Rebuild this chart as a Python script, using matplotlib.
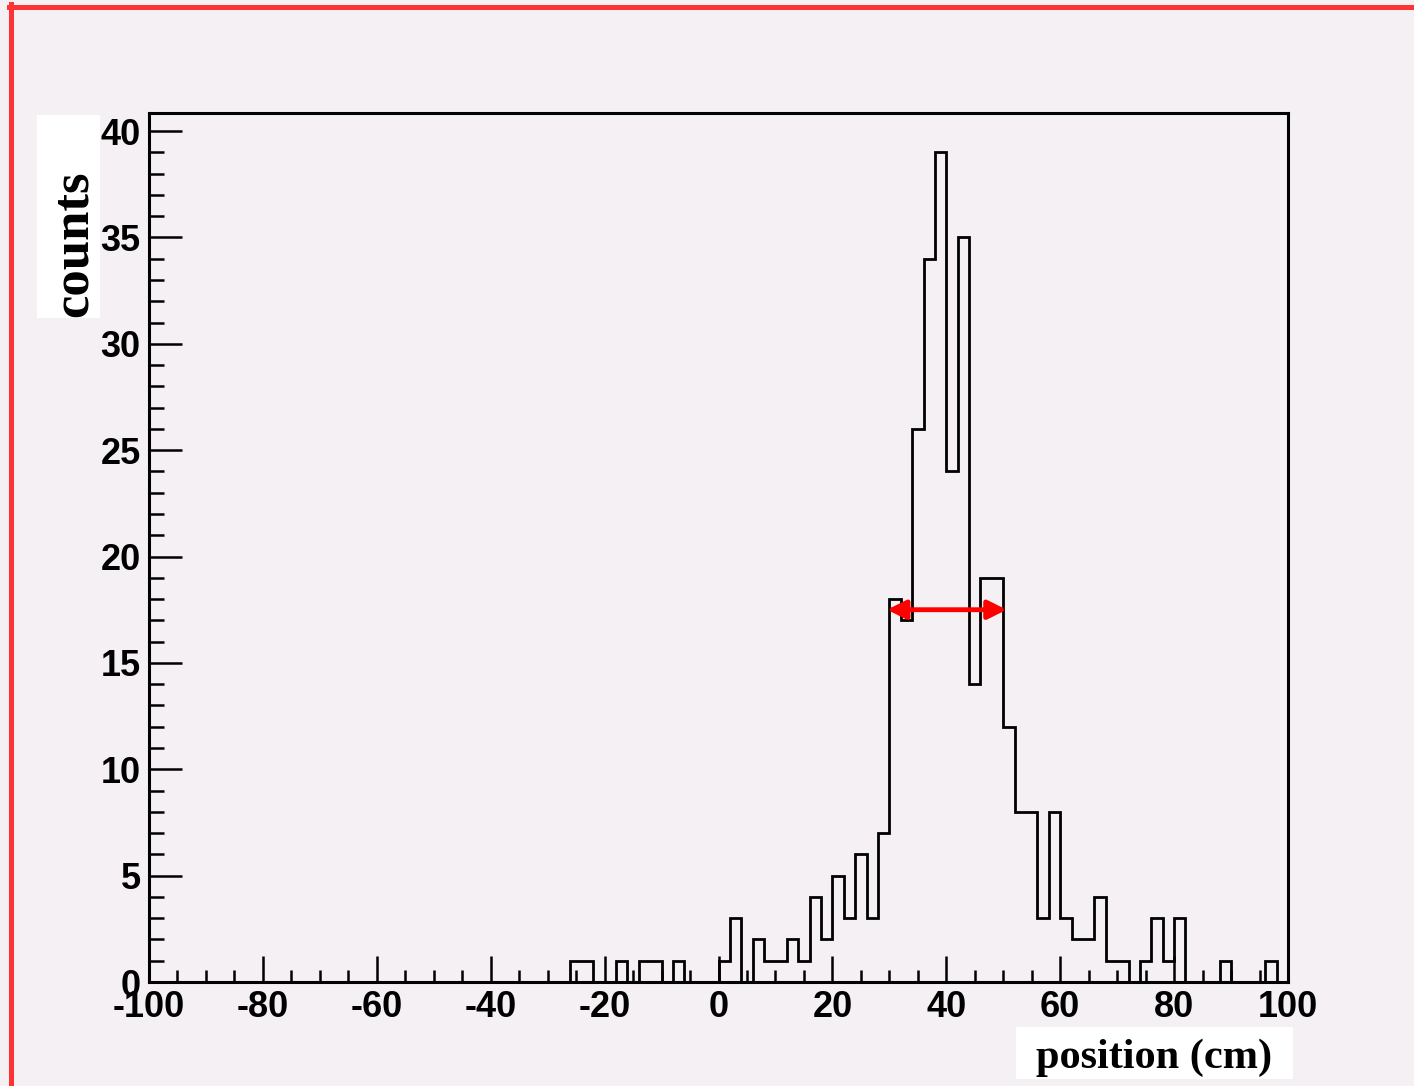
import numpy as np
import matplotlib
matplotlib.use('Agg')
import matplotlib.pyplot as plt
from matplotlib.patches import Rectangle
from matplotlib.lines import Line2D
from matplotlib.ticker import MultipleLocator

# ── Data: 2 cm bins from -100 to 100 ─────────────────────────
bin_edges = np.arange(-100, 101, 2)
counts = np.zeros(100)
nonzero = {
    -26: 1, -24: 1, -18: 1, -14: 1, -12: 1, -8: 1,
    0: 1, 2: 3, 6: 2, 8: 1, 10: 1, 12: 2, 14: 1, 16: 4, 18: 2,
    20: 5, 22: 3, 24: 6, 26: 3, 28: 7, 30: 18, 32: 17, 34: 26,
    36: 34, 38: 39, 40: 24, 42: 35, 44: 14, 46: 19, 48: 19,
    50: 12, 52: 8, 54: 8, 56: 3, 58: 8, 60: 3, 62: 2, 64: 2,
    66: 4, 68: 1, 70: 1, 74: 1, 76: 3, 78: 1, 80: 3, 88: 1, 96: 1,
}
for lo, c in nonzero.items():
    counts[(lo + 100) // 2] = c

fwhm_lo, fwhm_hi, half_max = 30, 50, 17.5

x_ticks = [-100, -80, -60, -40, -20, 0, 20, 40, 60, 80, 100]
y_ticks = [0, 5, 10, 15, 20, 25, 30, 35, 40]

bg = '#f5f0f4'
W, H = 1414, 1086
fig = plt.figure(figsize=(W / 100, H / 100), dpi=100, facecolor=bg)


def fx(px):
    return px / W


def fy(py):
    return 1 - py / H


ax = fig.add_axes([fx(149), fy(982), fx(1288) - fx(149), fy(113) - fy(982)])
ax.set_facecolor(bg)

ax.stairs(counts, bin_edges, color='black', linewidth=2.0, baseline=0)

ax.set_xlim(-100, 100)
ax.set_ylim(0, 40.85)

for s in ax.spines.values():
    s.set_linewidth(2.2)
    s.set_color('black')

ax.xaxis.set_minor_locator(MultipleLocator(5))
ax.yaxis.set_minor_locator(MultipleLocator(1))
ax.set_xticks(x_ticks)
ax.set_yticks(y_ticks)
ax.set_xticklabels([str(v) for v in x_ticks])
ax.set_yticklabels([str(v) for v in y_ticks])

tick_font = ['Liberation Sans Narrow', 'Liberation Sans', 'DejaVu Sans']
ax.tick_params(axis='x', which='major', direction='in', length=19, width=1.8,
               pad=6, labelsize=26)
ax.tick_params(axis='x', which='minor', direction='in', length=9, width=1.8)
ax.tick_params(axis='y', which='major', direction='in', length=24, width=1.8,
               pad=6, labelsize=26)
ax.tick_params(axis='y', which='minor', direction='in', length=11, width=1.8)
for lab in ax.get_xticklabels() + ax.get_yticklabels():
    lab.set_family(tick_font)
    lab.set_fontweight('bold')

# FWHM arrow
ax.annotate('', xy=(fwhm_lo - 0.4, half_max), xytext=(fwhm_hi + 0.6, half_max),
            arrowprops=dict(arrowstyle='<|-|>', color='red', lw=3.5,
                            mutation_scale=28, shrinkA=0, shrinkB=0))

# white label boxes + serif axis titles
fig.patches.append(Rectangle((fx(37), fy(318)), fx(100) - fx(37), fy(115) - fy(318),
                             transform=fig.transFigure, facecolor='white',
                             edgecolor='none', zorder=1))
fig.text(fx(74), fy(244), 'counts', rotation=90, ha='center', va='center',
         family=['Liberation Serif', 'DejaVu Serif'], fontweight='bold',
         fontsize=38, zorder=2)

fig.patches.append(Rectangle((fx(1016), fy(1079)), fx(1293) - fx(1016), fy(1027) - fy(1079),
                             transform=fig.transFigure, facecolor='white',
                             edgecolor='none', zorder=1))
fig.text(fx(1154), fy(1058), 'position (cm)', ha='center', va='center',
         family=['Liberation Serif', 'DejaVu Serif'], fontweight='bold',
         fontsize=30.5, zorder=2)

# red frame on top / left edge
fig.lines.append(Line2D([fx(10.5), fx(10.5)], [fy(4), 0], transform=fig.transFigure,
                        color='#ff3333', linewidth=3.6))
fig.lines.append(Line2D([fx(8.5), 1], [fy(6.5), fy(6.5)], transform=fig.transFigure,
                        color='#ff3333', linewidth=3.6))

fig.savefig('out.png', dpi=100, facecolor=bg)
